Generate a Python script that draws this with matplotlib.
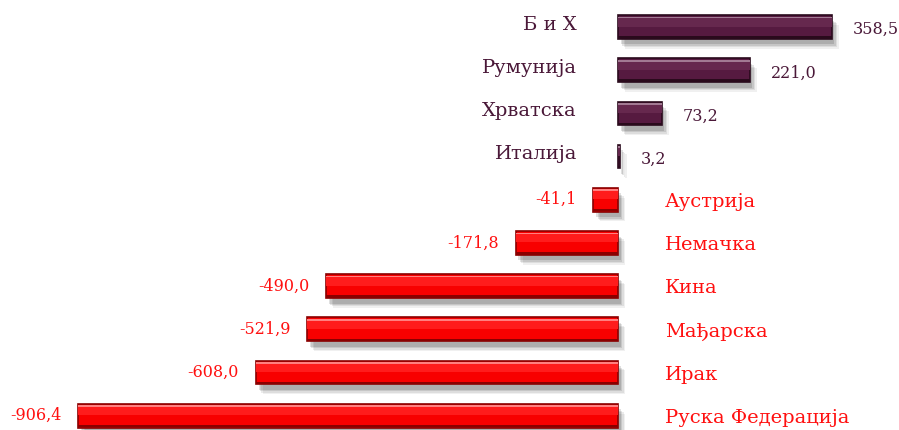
import matplotlib
matplotlib.use("Agg")
import matplotlib.pyplot as plt
import matplotlib.patheffects as pe
import numpy as np

categories = ["Б и Х", "Румунија", "Хрватска", "Италија", "Аустрија",
              "Немачка", "Кина", "Мађарска", "Ирак", "Руска Федерација"]
values = [358.5, 221.0, 73.2, 3.2, -41.1, -171.8, -490.0, -521.9, -608.0, -906.4]
value_labels = ["358,5", "221,0", "73,2", "3,2", "-41,1", "-171,8", "-490,0",
                "-521,9", "-608,0", "-906,4"]

PURPLE_TXT = "#4a1838"
RED_TXT = "#ff1010"

fig = plt.figure(figsize=(8.99, 4.30), dpi=100)
ax = fig.add_axes([0, 0, 1, 1])
ax.set_xlim(-1037.3, 471.7)
ax.set_ylim(9.33, -0.625)
ax.axis("off")

y = np.arange(len(values))
vals = np.array(values)
pos = vals >= 0

H = 0.55
styles = {
    True: dict(base="#561a40", mid="#66284e", top="#a27a93", bot="#2a0a1c"),
    False: dict(base="#f80000", mid="#ff1c1c", top="#ff8080", bot="#8a0000"),
}

for mask, st in ((pos, styles[True]), (~pos, styles[False])):
    yy = y[mask]
    vv = vals[mask]
    shadow = [pe.SimplePatchShadow(offset=(5, -7), shadow_rgbFace="#000000", alpha=0.06),
              pe.SimplePatchShadow(offset=(4, -6), shadow_rgbFace="#000000", alpha=0.08),
              pe.SimplePatchShadow(offset=(3, -5), shadow_rgbFace="#000000", alpha=0.10),
              pe.SimplePatchShadow(offset=(2, -4), shadow_rgbFace="#000000", alpha=0.12),
              pe.Normal()]
    ax.barh(yy, vv, height=H, color=st["base"], edgecolor=st["bot"], linewidth=1.2,
            path_effects=shadow, zorder=2)
    ax.barh(yy - H * 0.22, vv, height=H * 0.40, color=st["mid"], linewidth=0, zorder=3)
    ax.barh(yy - H * 0.40, vv, height=H * 0.07, color=st["top"], linewidth=0, zorder=4)
    ax.barh(yy + H * 0.44, vv, height=H * 0.10, color=st["bot"], linewidth=0, zorder=4)

font = "DejaVu Serif"
for i, (c, v, lab) in enumerate(zip(categories, values, value_labels)):
    if v >= 0:
        ax.annotate(c, (0, i), xytext=(-29.5, 1.5), textcoords="offset points",
                    ha="right", va="center", fontsize=14, color=PURPLE_TXT, family=font)
        ax.annotate(lab, (v, i), xytext=(15, -2), textcoords="offset points",
                    ha="left", va="center", fontsize=11.5, color=PURPLE_TXT, family=font)
    else:
        ax.annotate(c, (0, i), xytext=(34, -1.5), textcoords="offset points",
                    ha="left", va="center", fontsize=14, color=RED_TXT, family=font)
        ax.annotate(lab, (v, i), xytext=(-12, 0), textcoords="offset points",
                    ha="right", va="center", fontsize=11.5, color=RED_TXT, family=font)

fig.savefig("out.png", dpi=100, facecolor="white")
